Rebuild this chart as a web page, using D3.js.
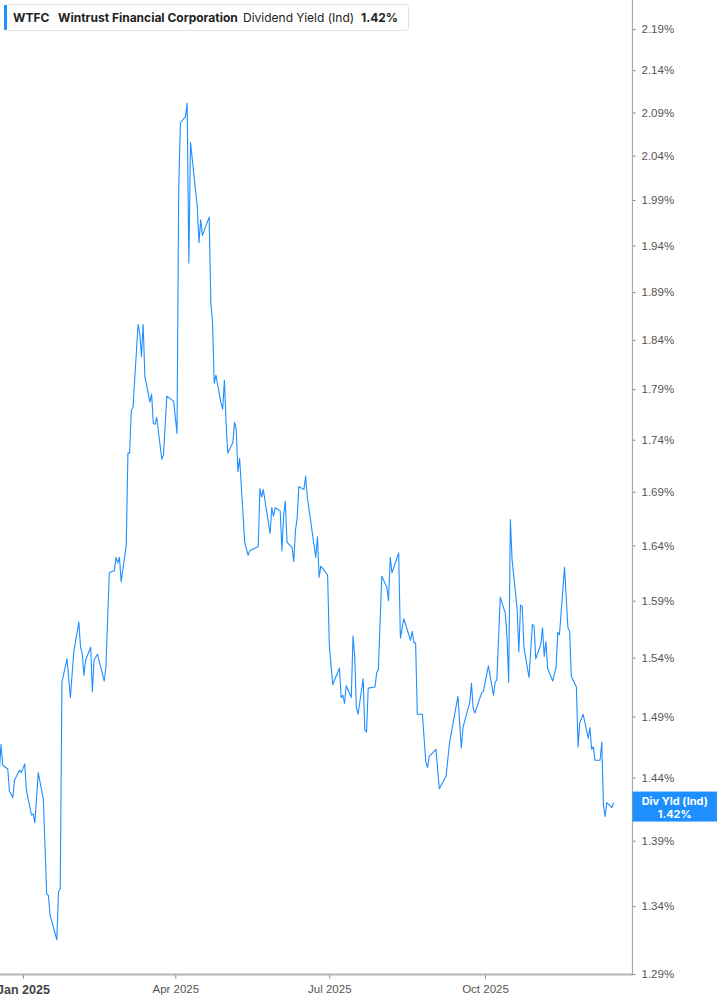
<!DOCTYPE html>
<html>
<head>
<meta charset="utf-8">
<script src="https://cdn.jsdelivr.net/npm/d3@7"></script>
<style>
  body { margin: 0; background: #fff; }
  svg { display: block; font-family: Inter, "Noto Sans", sans-serif; }
  .tick text { fill: #555; font-size: 11.5px; }
</style>
</head>
<body>
<svg id="chart"></svg>
<script>
// WTFC dividend yield (indicated)
let dates = [
  "2024-12-18","2024-12-19","2024-12-20","2024-12-23","2024-12-24","2024-12-26","2024-12-27","2024-12-30","2024-12-31",
  "2025-01-02","2025-01-03","2025-01-06","2025-01-07","2025-01-08","2025-01-10","2025-01-13","2025-01-15","2025-01-16",
  "2025-01-17","2025-01-21","2025-01-22","2025-01-23","2025-01-24","2025-01-27","2025-01-29","2025-01-31",
  "2025-02-03","2025-02-04","2025-02-05","2025-02-06","2025-02-07","2025-02-10","2025-02-11","2025-02-12","2025-02-14",
  "2025-02-18","2025-02-19","2025-02-21","2025-02-24","2025-02-25","2025-02-26","2025-02-27","2025-02-28",
  "2025-03-03","2025-03-04","2025-03-05","2025-03-06","2025-03-07","2025-03-10","2025-03-11","2025-03-12","2025-03-13",
  "2025-03-14","2025-03-17","2025-03-18","2025-03-19","2025-03-20","2025-03-21","2025-03-24","2025-03-25","2025-03-27",
  "2025-03-31","2025-04-02","2025-04-03","2025-04-04","2025-04-07","2025-04-08","2025-04-09","2025-04-10","2025-04-14",
  "2025-04-15","2025-04-16","2025-04-17","2025-04-21","2025-04-22","2025-04-23","2025-04-24","2025-04-25","2025-04-28",
  "2025-04-29","2025-04-30","2025-05-01","2025-05-02","2025-05-05","2025-05-06","2025-05-07","2025-05-08","2025-05-09",
  "2025-05-12","2025-05-14","2025-05-15","2025-05-20","2025-05-21","2025-05-22","2025-05-23","2025-05-27","2025-05-28",
  "2025-05-29","2025-05-30","2025-06-02","2025-06-03","2025-06-04","2025-06-05","2025-06-06","2025-06-09","2025-06-10",
  "2025-06-11","2025-06-12","2025-06-13","2025-06-16","2025-06-17","2025-06-18","2025-06-23","2025-06-24","2025-06-25",
  "2025-06-26","2025-06-30","2025-07-01","2025-07-03","2025-07-07","2025-07-08","2025-07-09","2025-07-10","2025-07-11",
  "2025-07-14","2025-07-15","2025-07-16","2025-07-17","2025-07-18","2025-07-21","2025-07-22","2025-07-23","2025-07-24",
  "2025-07-28","2025-07-29","2025-07-30","2025-08-01","2025-08-04","2025-08-05","2025-08-06","2025-08-07","2025-08-11",
  "2025-08-12","2025-08-14","2025-08-18","2025-08-19","2025-08-20","2025-08-21","2025-08-22","2025-08-25","2025-08-27",
  "2025-08-28","2025-08-29","2025-09-02","2025-09-04","2025-09-08","2025-09-10","2025-09-15","2025-09-17","2025-09-18",
  "2025-09-22","2025-09-23","2025-09-24","2025-09-25","2025-09-29","2025-09-30","2025-10-03","2025-10-06","2025-10-07",
  "2025-10-08","2025-10-10","2025-10-13","2025-10-14","2025-10-15","2025-10-16","2025-10-17","2025-10-20","2025-10-21",
  "2025-10-22","2025-10-23","2025-10-24","2025-10-27","2025-10-29","2025-10-30","2025-10-31","2025-11-03","2025-11-04",
  "2025-11-05","2025-11-06","2025-11-07","2025-11-10","2025-11-12","2025-11-13","2025-11-14","2025-11-17","2025-11-19",
  "2025-11-20","2025-11-21","2025-11-24","2025-11-25","2025-11-26","2025-11-28","2025-12-01","2025-12-02","2025-12-03",
  "2025-12-04","2025-12-05","2025-12-08","2025-12-09","2025-12-10","2025-12-11","2025-12-12","2025-12-15","2025-12-16"
];

let yields = [
  1.445,1.467,1.450,1.447,1.429,1.424,1.438,1.446,1.444,
  1.451,1.430,1.410,1.411,1.404,1.444,1.423,1.349,1.348,
  1.333,1.315,1.351,1.353,1.519,1.539,1.506,1.545,
  1.571,1.549,1.544,1.525,1.538,1.549,1.511,1.538,1.543,
  1.520,1.532,1.615,1.617,1.629,1.624,1.629,1.607,
  1.640,1.727,1.727,1.769,1.772,1.856,1.847,1.823,1.856,
  1.803,1.777,1.785,1.756,1.755,1.762,1.721,1.725,1.783,
  1.778,1.746,2.001,2.078,2.085,2.101,1.921,2.055,1.982,
  1.943,1.968,1.951,1.971,1.879,1.858,1.796,1.804,1.776,
  1.770,1.799,1.757,1.727,1.737,1.757,1.750,1.709,1.722,
  1.643,1.631,1.635,1.639,1.693,1.685,1.692,1.651,1.675,
  1.667,1.675,1.672,1.635,1.668,1.681,1.643,1.638,1.625,
  1.654,1.665,1.695,1.692,1.705,1.685,1.629,1.648,1.611,
  1.621,1.613,1.551,1.517,1.531,1.506,1.508,1.501,1.516,
  1.506,1.559,1.541,1.498,1.492,1.522,1.479,1.477,1.514,
  1.515,1.527,1.530,1.612,1.602,1.590,1.629,1.615,1.633,
  1.557,1.574,1.555,1.563,1.553,1.553,1.492,1.492,1.453,
  1.448,1.457,1.463,1.431,1.441,1.468,1.507,1.464,1.481,
  1.502,1.518,1.497,1.493,1.510,1.511,1.533,1.508,1.519,
  1.521,1.593,1.579,1.558,1.519,1.664,1.627,1.582,1.545,
  1.586,1.585,1.549,1.523,1.569,1.567,1.539,1.552,1.566,
  1.541,1.554,1.531,1.520,1.532,1.562,1.560,1.620,1.566,
  1.563,1.524,1.515,1.465,1.485,1.492,1.472,1.481,1.463,
  1.465,1.454,1.454,1.469,1.418,1.409,1.420,1.416,1.420
];

let yTicks = [1.29,1.34,1.39,1.44,1.49,1.54,1.59,1.64,1.69,1.74,1.79,1.84,1.89,1.94,1.99,2.04,2.09,2.14,2.19];
let xTickDates = ["2025-01-01","2025-04-01","2025-07-01","2025-10-01"];
let xTickLabels = ["Jan 2025","Apr 2025","Jul 2025","Oct 2025"];

let legendItems = [
  { text: "WTFC", bold: true },
  { text: "Wintrust Financial Corporation", bold: true },
  { text: "Dividend Yield (Ind)", bold: false },
  { text: "1.42%", bold: true }
];

function drawChart() {
  let w = 717, h = 1005;
  let plotRight = 632.5, plotBottom = 974.5;
  let blue = "#1e8fff";
  let parse = d3.timeParse("%Y-%m-%d");

  let data = dates.map((d, i) => ({ date: parse(d), value: yields[i] }));

  let svg = d3.select("#chart")
    .attr('width', w)
    .attr('height', h);

  // time scale anchored on the Jan / Oct ticks of the reference
  let x = d3.scaleTime()
    .domain([parse("2025-01-01"), parse("2025-10-01")])
    .range([23, 485]);

  let y = d3.scaleLog()
    .domain([1.29, 2.19])
    .range([974, 29]);

  // the line
  let line = d3.line()
    .x(d => x(d.date))
    .y(d => y(d.value));

  svg.append('path')
    .datum(data)
    .attr('fill', 'none')
    .attr('stroke', blue)
    .attr('stroke-width', 1.1)
    .attr('stroke-linejoin', 'round')
    .attr('d', line);

  // bottom axis
  let xAxis = d3.axisBottom(x)
    .tickValues(xTickDates.map(parse))
    .tickSize(4)
    .tickSizeOuter(0)
    .tickFormat((d, i) => xTickLabels[i]);

  let gx = svg.append('g')
    .attr('transform', `translate(0,${plotBottom})`)
    .call(xAxis);
  gx.select('.domain').remove();
  gx.append('line')
    .attr('x1', 0).attr('x2', plotRight)
    .attr('stroke', '#b4b4b4').attr('stroke-width', 2);
  gx.selectAll('.tick line').attr('stroke', '#888');
  gx.selectAll('.tick text')
    .attr('y', 10)
    .attr('dy', '0.71em')
    .style('font-size', '11.5px')
    .style('fill', '#555');
  gx.selectAll('.tick').filter((d, i) => i === 0).select('text')
    .style('font-weight', 700)
    .style('font-size', '12.5px')
    .style('fill', '#444')
    .attr('y', 11);

  // right axis
  let yAxis = d3.axisRight(y)
    .tickValues(yTicks)
    .tickSize(3)
    .tickSizeOuter(0)
    .tickFormat(d => d.toFixed(2) + "%");

  let gy = svg.append('g')
    .attr('transform', `translate(${plotRight},0)`)
    .call(yAxis);
  gy.select('.domain').remove();
  gy.append('line')
    .attr('y1', 0).attr('y2', plotBottom + 1)
    .attr('stroke', '#a8a8a8').attr('stroke-width', 1.2);
  gy.selectAll('.tick line').attr('stroke', '#888');
  gy.selectAll('.tick text').attr('x', 9);

  // last value badge
  let last = data[data.length - 1];
  let by = y(last.value) + 4;
  let badge = svg.append('g').attr('transform', `translate(${plotRight},${by})`);
  badge.append('rect')
    .attr('x', 0).attr('y', -15)
    .attr('width', w - plotRight).attr('height', 30)
    .attr('fill', blue);
  badge.append('text')
    .attr('x', (w - plotRight) / 2).attr('y', -2)
    .attr('text-anchor', 'middle')
    .style('fill', '#fff').style('font-size', '11px').style('font-weight', 700)
    .text("Div Yld (Ind)");
  badge.append('text')
    .attr('x', (w - plotRight) / 2).attr('y', 11)
    .attr('text-anchor', 'middle')
    .style('fill', '#fff').style('font-size', '11px').style('font-weight', 700)
    .text(last.value.toFixed(2) + "%");

  // legend box
  let legend = svg.append('g');
  legend.append('rect')
    .attr('x', 4.5).attr('y', 4.5)
    .attr('width', 404).attr('height', 26)
    .attr('rx', 3)
    .attr('fill', '#fff')
    .attr('stroke', '#e4e4e4');
  legend.append('rect')
    .attr('x', 4).attr('y', 5)
    .attr('width', 3).attr('height', 25)
    .attr('rx', 1)
    .attr('fill', blue);

  let lx = [13, 58, 243, 361];
  legend.selectAll('text.leg')
    .data(legendItems)
    .enter()
    .append('text')
    .classed('leg', true)
    .attr('x', (d, i) => lx[i])
    .attr('y', 21.5)
    .style('font-size', '12px')
    .style('fill', '#222')
    .style('font-weight', d => d.bold ? 700 : 400)
    .text(d => d.text);
}

window.onload = function() {
  drawChart();
}
</script>
</body>
</html>
